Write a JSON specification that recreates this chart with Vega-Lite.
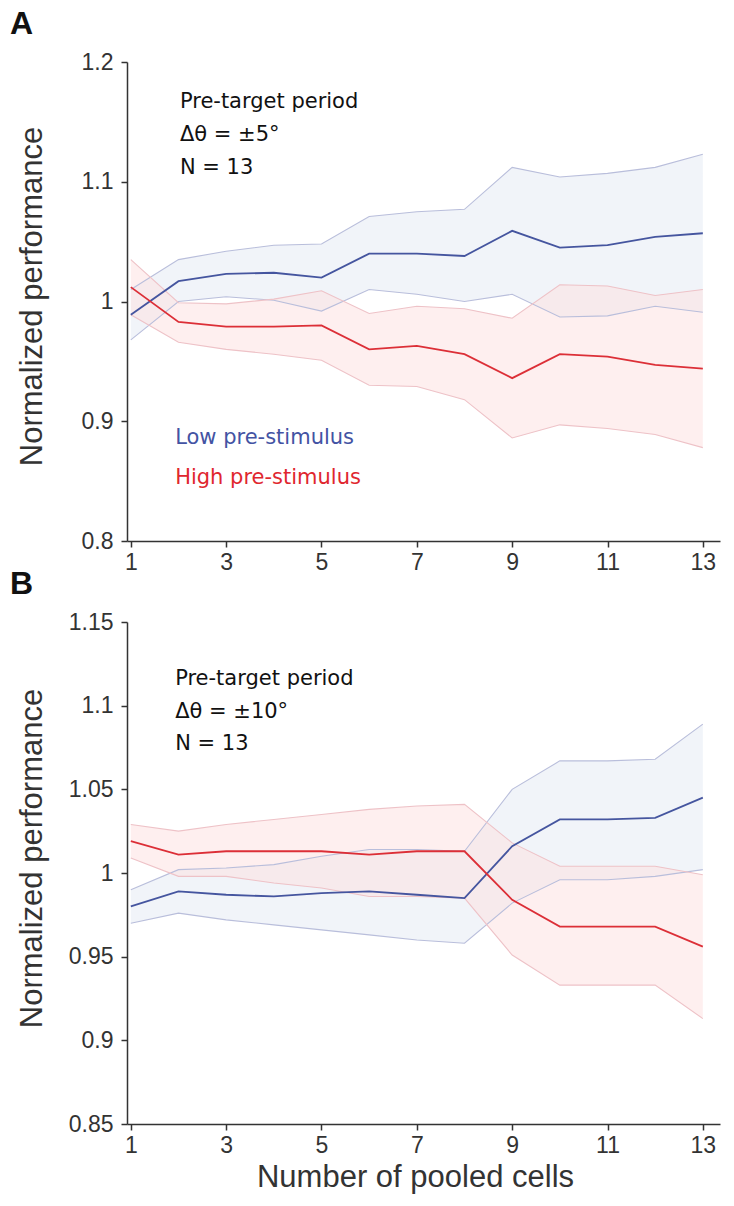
{
  "$schema": "https://vega.github.io/schema/vega-lite/v6.json",
  "background": "white",
  "padding": {"left": 10, "top": 8, "right": 14, "bottom": 5},
  "bounds": "flush",
  "spacing": 81,
  "config": {
    "view": {"stroke": null},
    "axis": {
      "grid": false,
      "domainColor": "#333333",
      "domainWidth": 1.5,
      "tickColor": "#333333",
      "tickWidth": 1.5,
      "tickSize": 6,
      "labelColor": "#333333",
      "labelFont": "Liberation Sans",
      "labelFontSize": 23,
      "titleFont": "Liberation Sans",
      "titleFontSize": 31,
      "titleFontWeight": "normal",
      "titleColor": "#333333"
    }
  },
  "datasets": {
    "perf": [
      {"panel": "A", "group": "Low", "n": 1, "mean": 0.989, "lo": 0.968, "hi": 1.010},
      {"panel": "A", "group": "Low", "n": 2, "mean": 1.017, "lo": 1.000, "hi": 1.035},
      {"panel": "A", "group": "Low", "n": 3, "mean": 1.023, "lo": 1.004, "hi": 1.042},
      {"panel": "A", "group": "Low", "n": 4, "mean": 1.024, "lo": 1.001, "hi": 1.047},
      {"panel": "A", "group": "Low", "n": 5, "mean": 1.020, "lo": 0.992, "hi": 1.048},
      {"panel": "A", "group": "Low", "n": 6, "mean": 1.040, "lo": 1.010, "hi": 1.071},
      {"panel": "A", "group": "Low", "n": 7, "mean": 1.040, "lo": 1.006, "hi": 1.075},
      {"panel": "A", "group": "Low", "n": 8, "mean": 1.038, "lo": 1.000, "hi": 1.077},
      {"panel": "A", "group": "Low", "n": 9, "mean": 1.059, "lo": 1.006, "hi": 1.112},
      {"panel": "A", "group": "Low", "n": 10, "mean": 1.045, "lo": 0.987, "hi": 1.104},
      {"panel": "A", "group": "Low", "n": 11, "mean": 1.047, "lo": 0.988, "hi": 1.107},
      {"panel": "A", "group": "Low", "n": 12, "mean": 1.054, "lo": 0.996, "hi": 1.112},
      {"panel": "A", "group": "Low", "n": 13, "mean": 1.057, "lo": 0.991, "hi": 1.123},
      {"panel": "A", "group": "High", "n": 1, "mean": 1.012, "lo": 0.989, "hi": 1.035},
      {"panel": "A", "group": "High", "n": 2, "mean": 0.983, "lo": 0.966, "hi": 0.999},
      {"panel": "A", "group": "High", "n": 3, "mean": 0.979, "lo": 0.960, "hi": 0.998},
      {"panel": "A", "group": "High", "n": 4, "mean": 0.979, "lo": 0.956, "hi": 1.002},
      {"panel": "A", "group": "High", "n": 5, "mean": 0.980, "lo": 0.951, "hi": 1.009},
      {"panel": "A", "group": "High", "n": 6, "mean": 0.960, "lo": 0.930, "hi": 0.990},
      {"panel": "A", "group": "High", "n": 7, "mean": 0.963, "lo": 0.929, "hi": 0.996},
      {"panel": "A", "group": "High", "n": 8, "mean": 0.956, "lo": 0.918, "hi": 0.994},
      {"panel": "A", "group": "High", "n": 9, "mean": 0.936, "lo": 0.886, "hi": 0.986},
      {"panel": "A", "group": "High", "n": 10, "mean": 0.956, "lo": 0.897, "hi": 1.014},
      {"panel": "A", "group": "High", "n": 11, "mean": 0.954, "lo": 0.894, "hi": 1.013},
      {"panel": "A", "group": "High", "n": 12, "mean": 0.947, "lo": 0.889, "hi": 1.005},
      {"panel": "A", "group": "High", "n": 13, "mean": 0.944, "lo": 0.878, "hi": 1.010},
      {"panel": "B", "group": "Low", "n": 1, "mean": 0.980, "lo": 0.970, "hi": 0.990},
      {"panel": "B", "group": "Low", "n": 2, "mean": 0.989, "lo": 0.976, "hi": 1.002},
      {"panel": "B", "group": "Low", "n": 3, "mean": 0.987, "lo": 0.972, "hi": 1.003},
      {"panel": "B", "group": "Low", "n": 4, "mean": 0.986, "lo": 0.969, "hi": 1.005},
      {"panel": "B", "group": "Low", "n": 5, "mean": 0.988, "lo": 0.966, "hi": 1.010},
      {"panel": "B", "group": "Low", "n": 6, "mean": 0.989, "lo": 0.963, "hi": 1.014},
      {"panel": "B", "group": "Low", "n": 7, "mean": 0.987, "lo": 0.960, "hi": 1.014},
      {"panel": "B", "group": "Low", "n": 8, "mean": 0.985, "lo": 0.958, "hi": 1.013},
      {"panel": "B", "group": "Low", "n": 9, "mean": 1.016, "lo": 0.982, "hi": 1.050},
      {"panel": "B", "group": "Low", "n": 10, "mean": 1.032, "lo": 0.996, "hi": 1.067},
      {"panel": "B", "group": "Low", "n": 11, "mean": 1.032, "lo": 0.996, "hi": 1.067},
      {"panel": "B", "group": "Low", "n": 12, "mean": 1.033, "lo": 0.998, "hi": 1.068},
      {"panel": "B", "group": "Low", "n": 13, "mean": 1.045, "lo": 1.002, "hi": 1.089},
      {"panel": "B", "group": "High", "n": 1, "mean": 1.019, "lo": 1.009, "hi": 1.029},
      {"panel": "B", "group": "High", "n": 2, "mean": 1.011, "lo": 0.998, "hi": 1.025},
      {"panel": "B", "group": "High", "n": 3, "mean": 1.013, "lo": 0.998, "hi": 1.029},
      {"panel": "B", "group": "High", "n": 4, "mean": 1.013, "lo": 0.994, "hi": 1.032},
      {"panel": "B", "group": "High", "n": 5, "mean": 1.013, "lo": 0.991, "hi": 1.035},
      {"panel": "B", "group": "High", "n": 6, "mean": 1.011, "lo": 0.986, "hi": 1.038},
      {"panel": "B", "group": "High", "n": 7, "mean": 1.013, "lo": 0.986, "hi": 1.040},
      {"panel": "B", "group": "High", "n": 8, "mean": 1.013, "lo": 0.985, "hi": 1.041},
      {"panel": "B", "group": "High", "n": 9, "mean": 0.984, "lo": 0.951, "hi": 1.018},
      {"panel": "B", "group": "High", "n": 10, "mean": 0.968, "lo": 0.933, "hi": 1.004},
      {"panel": "B", "group": "High", "n": 11, "mean": 0.968, "lo": 0.933, "hi": 1.004},
      {"panel": "B", "group": "High", "n": 12, "mean": 0.968, "lo": 0.933, "hi": 1.004},
      {"panel": "B", "group": "High", "n": 13, "mean": 0.956, "lo": 0.913, "hi": 0.999}
    ],
    "notes": [
      {"panel": "A", "kind": "info", "n": 2.03, "v": 1.1667, "label": "Pre-target period"},
      {"panel": "A", "kind": "info", "n": 2.03, "v": 1.139, "label": "Δθ = ±5°"},
      {"panel": "A", "kind": "info", "n": 2.03, "v": 1.1117, "label": "N = 13"},
      {"panel": "A", "kind": "low", "n": 1.93, "v": 0.8858, "label": "Low pre-stimulus"},
      {"panel": "A", "kind": "high", "n": 1.93, "v": 0.8525, "label": "High pre-stimulus"},
      {"panel": "B", "kind": "info", "n": 1.93, "v": 1.1159, "label": "Pre-target period"},
      {"panel": "B", "kind": "info", "n": 1.93, "v": 1.0961, "label": "Δθ = ±10°"},
      {"panel": "B", "kind": "info", "n": 1.93, "v": 1.077, "label": "N  = 13"},
      {"panel": "A", "kind": "letter", "n": -1.534, "v": 1.2233, "label": "A"},
      {"panel": "B", "kind": "letter", "n": -1.534, "v": 1.1668, "label": "B"}
    ]
  },
  "vconcat": [
    {
      "width": 593,
      "height": 479,
      "layer": [
        {
          "data": {"name": "perf"},
          "transform": [{"filter": "datum.panel === 'A'"}],
          "mark": {"type": "area", "fillOpacity": 0.5},
          "encoding": {
            "x": {"field": "n", "type": "quantitative", "scale": {"domain": [0.92, 13.36], "nice": false, "zero": false}, "axis": {"values": [1, 3, 5, 7, 9, 11, 13], "title": null, "labelPadding": 4}},
            "y": {"field": "lo", "type": "quantitative", "scale": {"domain": [0.8, 1.2], "nice": false, "zero": false}, "axis": {"values": [0.8, 0.9, 1, 1.1, 1.2], "format": "~g", "title": "Normalized performance", "labelPadding": 8, "titlePadding": 33, "titleY": 234}, "title": "Normalized performance"},
            "y2": {"field": "hi"},
            "fill": {"field": "group", "type": "nominal", "scale": {"domain": ["Low", "High"], "range": ["#e4e9f4", "#fde0e0"]}, "legend": null},
            "detail": {"field": "group"}
          }
        },
        {
          "data": {"name": "perf"},
          "transform": [{"filter": "datum.panel === 'A' && datum.group === 'Low'"}, {"fold": ["lo", "hi"], "as": ["key", "val"]}],
          "mark": {"type": "line", "stroke": "#b9bedb", "strokeWidth": 1.1},
          "encoding": {
            "x": {"field": "n", "type": "quantitative"},
            "y": {"field": "val", "type": "quantitative", "title": "Normalized performance"},
            "detail": {"field": "key"}
          }
        },
        {
          "data": {"name": "perf"},
          "transform": [{"filter": "datum.panel === 'A' && datum.group === 'High'"}, {"fold": ["lo", "hi"], "as": ["key", "val"]}],
          "mark": {"type": "line", "stroke": "#eec2c7", "strokeWidth": 1.1},
          "encoding": {
            "x": {"field": "n", "type": "quantitative"},
            "y": {"field": "val", "type": "quantitative", "title": "Normalized performance"},
            "detail": {"field": "key"}
          }
        },
        {
          "data": {"name": "perf"},
          "transform": [{"filter": "datum.panel === 'A' && datum.group === 'Low'"}],
          "mark": {"type": "line", "stroke": "#45559f", "strokeWidth": 1.8},
          "encoding": {
            "x": {"field": "n", "type": "quantitative"},
            "y": {"field": "mean", "type": "quantitative", "title": "Normalized performance"}
          }
        },
        {
          "data": {"name": "perf"},
          "transform": [{"filter": "datum.panel === 'A' && datum.group === 'High'"}],
          "mark": {"type": "line", "stroke": "#dc2f37", "strokeWidth": 1.8},
          "encoding": {
            "x": {"field": "n", "type": "quantitative"},
            "y": {"field": "mean", "type": "quantitative", "title": "Normalized performance"}
          }
        },
        {
          "data": {"name": "notes"},
          "transform": [{"filter": "datum.panel === 'A' && datum.kind === 'info'"}],
          "mark": {"type": "text", "align": "left", "baseline": "middle", "font": "DejaVu Sans", "fontSize": 21, "color": "#111111"},
          "encoding": {
            "x": {"field": "n", "type": "quantitative"},
            "y": {"field": "v", "type": "quantitative", "title": "Normalized performance"},
            "text": {"field": "label"}
          }
        },
        {
          "data": {"name": "notes"},
          "transform": [{"filter": "datum.panel === 'A' && datum.kind === 'low'"}],
          "mark": {"type": "text", "align": "left", "baseline": "middle", "font": "DejaVu Sans", "fontSize": 21, "color": "#4353a3"},
          "encoding": {
            "x": {"field": "n", "type": "quantitative"},
            "y": {"field": "v", "type": "quantitative", "title": "Normalized performance"},
            "text": {"field": "label"}
          }
        },
        {
          "data": {"name": "notes"},
          "transform": [{"filter": "datum.panel === 'A' && datum.kind === 'high'"}],
          "mark": {"type": "text", "align": "left", "baseline": "middle", "font": "DejaVu Sans", "fontSize": 21, "color": "#e0262e"},
          "encoding": {
            "x": {"field": "n", "type": "quantitative"},
            "y": {"field": "v", "type": "quantitative", "title": "Normalized performance"},
            "text": {"field": "label"}
          }
        },
        {
          "data": {"name": "notes"},
          "transform": [{"filter": "datum.panel === 'A' && datum.kind === 'letter'"}],
          "mark": {"type": "text", "align": "left", "baseline": "alphabetic", "font": "Liberation Sans", "fontSize": 32, "fontWeight": "bold", "color": "#111111"},
          "encoding": {
            "x": {"field": "n", "type": "quantitative"},
            "y": {"field": "v", "type": "quantitative", "title": "Normalized performance"},
            "text": {"field": "label"}
          }
        }
      ]
    },
    {
      "width": 593,
      "height": 502,
      "layer": [
        {
          "data": {"name": "perf"},
          "transform": [{"filter": "datum.panel === 'B'"}],
          "mark": {"type": "area", "fillOpacity": 0.5},
          "encoding": {
            "x": {"field": "n", "type": "quantitative", "scale": {"domain": [0.92, 13.36], "nice": false, "zero": false}, "axis": {"values": [1, 3, 5, 7, 9, 11, 13], "title": "Number of pooled cells", "labelPadding": 4, "titlePadding": 5, "titleX": 288}, "title": "Number of pooled cells"},
            "y": {"field": "lo", "type": "quantitative", "scale": {"domain": [0.85, 1.15], "nice": false, "zero": false}, "axis": {"values": [0.85, 0.9, 0.95, 1, 1.05, 1.1, 1.15], "format": "~g", "title": "Normalized performance", "labelPadding": 8, "titlePadding": 20, "titleY": 236}, "title": "Normalized performance"},
            "y2": {"field": "hi"},
            "fill": {"field": "group", "type": "nominal", "scale": {"domain": ["Low", "High"], "range": ["#e4e9f4", "#fde0e0"]}, "legend": null},
            "detail": {"field": "group"}
          }
        },
        {
          "data": {"name": "perf"},
          "transform": [{"filter": "datum.panel === 'B' && datum.group === 'Low'"}, {"fold": ["lo", "hi"], "as": ["key", "val"]}],
          "mark": {"type": "line", "stroke": "#b9bedb", "strokeWidth": 1.1},
          "encoding": {
            "x": {"field": "n", "type": "quantitative", "title": "Number of pooled cells"},
            "y": {"field": "val", "type": "quantitative", "title": "Normalized performance"},
            "detail": {"field": "key"}
          }
        },
        {
          "data": {"name": "perf"},
          "transform": [{"filter": "datum.panel === 'B' && datum.group === 'High'"}, {"fold": ["lo", "hi"], "as": ["key", "val"]}],
          "mark": {"type": "line", "stroke": "#eec2c7", "strokeWidth": 1.1},
          "encoding": {
            "x": {"field": "n", "type": "quantitative", "title": "Number of pooled cells"},
            "y": {"field": "val", "type": "quantitative", "title": "Normalized performance"},
            "detail": {"field": "key"}
          }
        },
        {
          "data": {"name": "perf"},
          "transform": [{"filter": "datum.panel === 'B' && datum.group === 'Low'"}],
          "mark": {"type": "line", "stroke": "#45559f", "strokeWidth": 1.8},
          "encoding": {
            "x": {"field": "n", "type": "quantitative", "title": "Number of pooled cells"},
            "y": {"field": "mean", "type": "quantitative", "title": "Normalized performance"}
          }
        },
        {
          "data": {"name": "perf"},
          "transform": [{"filter": "datum.panel === 'B' && datum.group === 'High'"}],
          "mark": {"type": "line", "stroke": "#dc2f37", "strokeWidth": 1.8},
          "encoding": {
            "x": {"field": "n", "type": "quantitative", "title": "Number of pooled cells"},
            "y": {"field": "mean", "type": "quantitative", "title": "Normalized performance"}
          }
        },
        {
          "data": {"name": "notes"},
          "transform": [{"filter": "datum.panel === 'B' && datum.kind === 'info'"}],
          "mark": {"type": "text", "align": "left", "baseline": "middle", "font": "DejaVu Sans", "fontSize": 21, "color": "#111111"},
          "encoding": {
            "x": {"field": "n", "type": "quantitative", "title": "Number of pooled cells"},
            "y": {"field": "v", "type": "quantitative", "title": "Normalized performance"},
            "text": {"field": "label"}
          }
        },
        {
          "data": {"name": "notes"},
          "transform": [{"filter": "datum.panel === 'B' && datum.kind === 'letter'"}],
          "mark": {"type": "text", "align": "left", "baseline": "alphabetic", "font": "Liberation Sans", "fontSize": 32, "fontWeight": "bold", "color": "#111111"},
          "encoding": {
            "x": {"field": "n", "type": "quantitative", "title": "Number of pooled cells"},
            "y": {"field": "v", "type": "quantitative", "title": "Normalized performance"},
            "text": {"field": "label"}
          }
        }
      ]
    }
  ]
}
